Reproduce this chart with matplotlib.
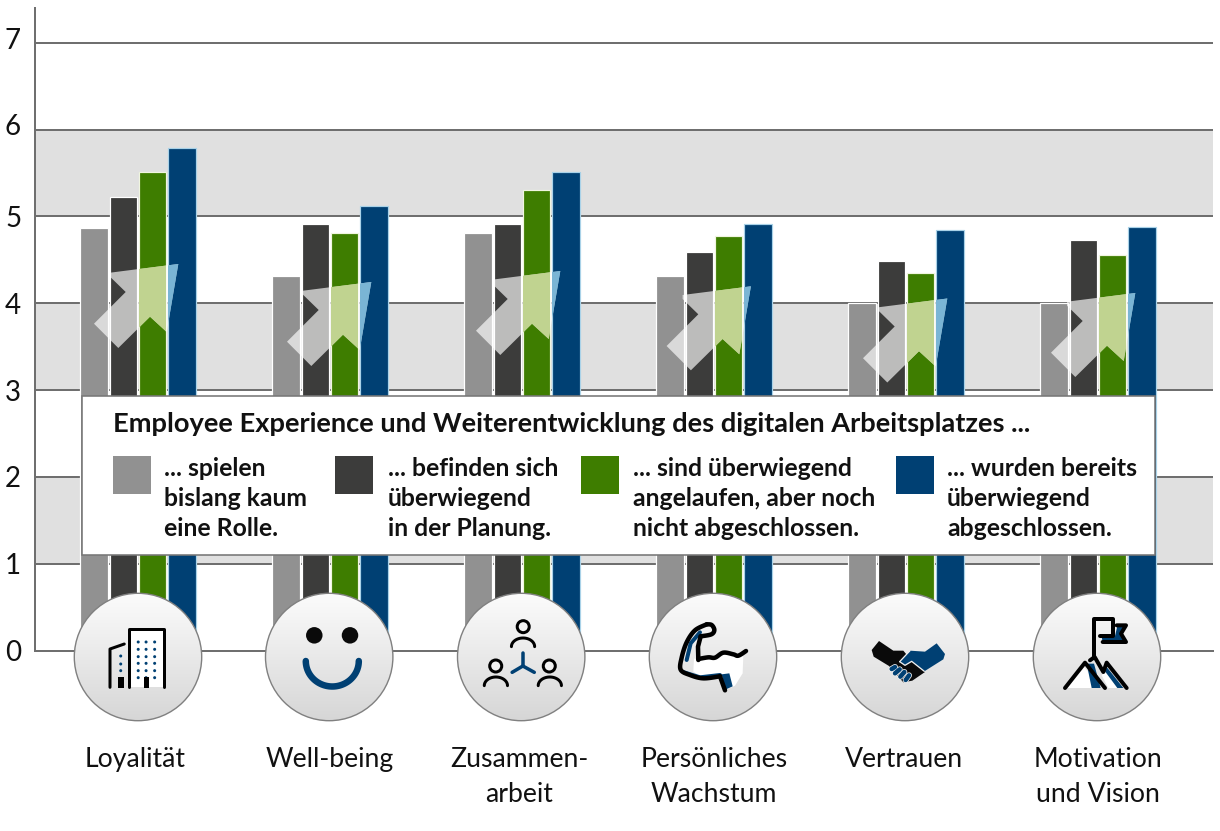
import numpy as np
import matplotlib
matplotlib.use("Agg")
import matplotlib.pyplot as plt
from matplotlib.patches import Polygon, Rectangle, Circle, Ellipse
from matplotlib.transforms import ScaledTranslation

# ---- data ----
categories = ["Loyalität", "Well-being", "Zusammen-\narbeit", "Persönliches\nWachstum", "Vertrauen", "Motivation\nund Vision"]
kaum_rolle = [4.87, 4.31, 4.81, 4.31, 4.00, 4.00]
planung = [5.22, 4.91, 4.91, 4.59, 4.49, 4.73]
angelaufen = [5.51, 4.81, 5.30, 4.77, 4.35, 4.56]
abgeschlossen = [5.79, 5.12, 5.51, 4.91, 4.84, 4.88]
series = [kaum_rolle, planung, angelaufen, abgeschlossen]
series_colors = ["#919191", "#3c3c3b", "#3e7d00", "#004073"]
edge_colors = ["#ffffff", "#ffffff", "#f0f5e0", "#a9d2e8"]
y_ticks = [0, 1, 2, 3, 4, 5, 6, 7]
bands = [(1, 2), (3, 4), (5, 6)]
legend_title = "Employee Experience und Weiterentwicklung des digitalen Arbeitsplatzes ..."
legend_labels = ["... spielen\nbislang kaum\neine Rolle.",
                 "... befinden sich\nüberwiegend\nin der Planung.",
                 "... sind überwiegend\nangelaufen, aber noch\nnicht abgeschlossen.",
                 "... wurden bereits\nüberwiegend\nabgeschlossen."]

W, H = 1220, 831
PX = 0.72
FONT = "Lato"
BLUE = "#004073"
GRID = "#6f6f6f"

fig = plt.figure(figsize=(W / 100, H / 100), dpi=100, facecolor="white")

# main axes mapped so that one value = 86.8 px, one group = 192 px
left, right, top, bottom = 35, 1213, 8, 650.5
ax = fig.add_axes([left / W, 1 - bottom / H, (right - left) / W, (bottom - top) / H])
ax.set_ylim(0, (bottom - top) / 86.8)
ax.set_xlim((left - 138) / 192, (right - 138) / 192)
for lo, hi in bands:
    ax.axhspan(lo, hi, color="#e0e0e0", lw=0, zorder=0)
ax.set_yticks(y_ticks)
ax.yaxis.grid(True, color=GRID, lw=2 * PX, zorder=1)
ax.set_axisbelow(True)
ax.tick_params(axis="y", length=0, pad=10, labelsize=20, labelcolor="#111111")
ax.set_xticks(range(len(categories)))
ax.set_xticklabels(categories, fontsize=19.2, linespacing=1.48, color="#111111", fontfamily=FONT)
ax.tick_params(axis="x", length=0, pad=69.5)
for lab in ax.get_yticklabels():
    lab.set_fontfamily(FONT)
for s in ("top", "right"):
    ax.spines[s].set_visible(False)
for s in ("left", "bottom"):
    ax.spines[s].set_color(GRID)
    ax.spines[s].set_linewidth(2 * PX)

# nudge labels as set in the reference
for lab, dy in zip(ax.get_yticklabels(), y_ticks):
    shift = {7: 4, 6: 5}.get(dy, 0)
    lab.set_transform(lab.get_transform() + ScaledTranslation(0, shift * PX / 72, fig.dpi_scale_trans))
for lab, dx in zip(ax.get_xticklabels(), [-3, 0, -3, 0, -2, 0]):
    lab.set_transform(lab.get_transform() + ScaledTranslation(dx * PX / 72, 0, fig.dpi_scale_trans))

pitch, width = 29.3 / 192, 27.2 / 192
x = np.arange(len(categories))
containers = []
for i, (vals, c, e) in enumerate(zip(series, series_colors, edge_colors)):
    containers.append(ax.bar(x + (i - 1.5) * pitch, vals, width=width, color=c, edgecolor=e,
                             linewidth=1.2 * PX, zorder=2))

# overlay in pixel coordinates for the decorations
ov = fig.add_axes([0, 0, 1, 1], facecolor="none")
ov.set_xlim(0, W)
ov.set_ylim(H, 0)
ov.axis("off")

# translucent arrow marks on the bars
arrow_shape = np.array([(110, 272.7), (178.3, 264), (166.7, 332), (150, 316.7), (118.3, 348),
                        (94, 323.7), (125.7, 292), (110, 276.7)])
arrow_shift = [(0, 0), (193, 18), (382, 7), (572.6, 22.3), (769, 34.5), (957, 29)]
for g, (dx, dy) in enumerate(arrow_shift):
    ov.add_patch(Polygon(arrow_shape + (dx, dy), closed=True, fc="white", ec="none", alpha=0.66, zorder=3))
    # tinted parts where the mark lies over the green and the blue bar
    for sidx, tint in ((2, "#c0d390"), (3, "#7ab5d5")):
        tp = Polygon(arrow_shape + (dx, dy), closed=True, fc=tint, ec="none", zorder=3.1)
        ov.add_patch(tp)
        tp.set_clip_path(containers[sidx][g])

# legend box
ov.add_patch(Rectangle((81.5, 396), 1073.5, 159, fc="white", ec="#777777", lw=1.6 * PX, zorder=4))
ov.text(113, 424.5, legend_title, fontsize=19.6, fontweight="bold", family=FONT, va="center", ha="left", color="#111111", zorder=5)
swatch_x = [113, 335, 581, 896]
text_x = [164, 388, 633, 947]
for sx_, tx, c, lab in zip(swatch_x, text_x, series_colors, legend_labels):
    ov.add_patch(Rectangle((sx_, 456), 37.5, 38, fc=c, ec="none", zorder=5))
    for k, line in enumerate(lab.split("\n")):
        ov.text(tx, 468 + 30 * k, line, fontsize=17.8, fontweight="bold", family=FONT, va="center", ha="left", color="#111111", zorder=5)

# icon circles
grad = np.linspace(0, 1, 256)[:, None]
cmap = matplotlib.colors.LinearSegmentedColormap.from_list("g", ["#fcfcfc", "#d6d6d6"])
centers = [138, 329.2, 521.2, 713, 905, 1097]
CY, R = 657, 63.7
for cx in centers:
    im = ov.imshow(grad, extent=(cx - R, cx + R, CY + R, CY - R), cmap=cmap, aspect="auto", zorder=6)
    im.set_clip_path(Circle((cx, CY), R, transform=ov.transData))
    ov.add_patch(Circle((cx, CY), R, fc="none", ec="#808080", lw=1.4 * PX, zorder=7))
ov.set_xlim(0, W)
ov.set_ylim(H, 0)


def smooth(p, n=12):
    # Catmull-Rom through the given points
    p = np.array(p, float)
    q = np.vstack([p[0], p, p[-1]])
    out = []
    for i in range(1, len(q) - 2):
        p0, p1, p2, p3 = q[i - 1], q[i], q[i + 1], q[i + 2]
        for t in np.linspace(0, 1, n, endpoint=False):
            out.append(0.5 * ((2 * p1) + (p2 - p0) * t + (2 * p0 - 5 * p1 + 4 * p2 - p3) * t ** 2
                              + (3 * p1 - p0 - 3 * p2 + p3) * t ** 3))
    out.append(p[-1])
    return np.array(out)


def L(pts, color="black", lw=3, x0=60, sx=2.8, y0=580, sy=3, soft=False, z=8):
    p = smooth(pts) if soft else np.array(pts, float)
    ov.plot(x0 + p[:, 0] / sx, y0 + p[:, 1] / sy, color=color, lw=lw * PX, zorder=z,
            solid_capstyle="round", solid_joinstyle="round")


def P(pts, color="black", x0=60, sx=2.8, y0=580, sy=3, z=8):
    p = np.array(pts, float)
    ov.add_patch(Polygon(np.c_[x0 + p[:, 0] / sx, y0 + p[:, 1] / sy], closed=True, fc=color, ec="none", zorder=z))


# building
P([(192, 145), (292, 145), (292, 322), (192, 322)], "#ffffff")
L([(192, 322), (192, 146), (292, 146), (292, 322)], lw=3)
L([(140, 322), (140, 207), (180, 192)], lw=3)
for px_ in (219, 241, 265):
    for py_ in (186, 208, 230, 250, 272, 293):
        ov.add_patch(Circle((60 + px_ / 2.8, 580 + py_ / 3), 1.5, fc=BLUE, ec="none", zorder=8))
for py_ in (228, 252, 272):
    ov.add_patch(Circle((60 + 170 / 2.8, 580 + py_ / 3), 1.5, fc=BLUE, ec="none", zorder=8))
P([(162, 290), (178, 290), (178, 323), (162, 323)])
P([(234, 290), (250, 290), (250, 323), (234, 323)])

# smiley
for ex in (712, 812):
    ov.add_patch(Ellipse((60 + ex / 2.8, 580 + 166 / 3), 16.5, 16.5, fc="#0a0a0a", ec="none", zorder=8))
t = np.linspace(0, np.pi, 60)
ov.plot(332.3 + 26.5 * np.cos(t), 661 + 25.5 * np.sin(t), color=BLUE, lw=6.5 * PX, solid_capstyle="round", zorder=8)


# team
def person(hx, hy, s0, s1, sy0, sy1):
    ov.add_patch(Circle((60 + hx / 2.8, 580 + hy / 3), 6, fc="#f2f2f2", ec="black", lw=3 * PX, zorder=8))
    tt = np.linspace(0, np.pi, 30)
    cx = 60 + (s0 + s1) / 2 / 2.8
    rx = (s1 - s0) / 2 / 2.8
    cy = 580 + sy0 / 3
    ov.plot(cx + rx * np.cos(tt), cy - (sy0 - sy1) / 3 * np.sin(tt), color="black", lw=3 * PX, solid_capstyle="round", zorder=8)


person(1297, 140, 1264, 1329, 200, 174)
person(1220, 258, 1188, 1253, 317, 291)
person(1370, 258, 1339, 1404, 317, 291)
L([(1296, 258), (1296, 220)], BLUE, 3.5)
L([(1296, 258), (1266, 277)], BLUE, 3.5)
L([(1296, 258), (1328, 277)], BLUE, 3.5)

# arm
A = dict(x0=670, sx=3, y0=615, sy=3)
P([(85, 135), (140, 128), (160, 116), (190, 120), (205, 124), (220, 120), (218, 175), (195, 212), (165, 226),
   (152, 182), (100, 190), (70, 170), (72, 130)], "#ffffff", **A)
L([(90, 52), (62, 85), (50, 135)], BLUE, 4, **A)
L([(42, 172), (90, 187), (150, 180)], BLUE, 4, **A)
P([(155, 178), (178, 175), (188, 214), (166, 224)], BLUE, **A)
L([(165, 226), (150, 184)], lw=4.5, **A)
L([(150, 184), (100, 190), (60, 180), (32, 164), (35, 128), (50, 82), (75, 46), (110, 28)], lw=4.5, soft=True, **A)
L([(110, 28), (125, 30), (133, 45), (124, 58), (92, 64)], lw=4.5, soft=True, **A)
L([(92, 64), (84, 95), (85, 135)], lw=4.5, **A)
L([(85, 132), (115, 127), (135, 128), (160, 113), (190, 118), (205, 122), (228, 108)], lw=4.5, soft=True, **A)

# handshake
Hs = dict(x0=865, sx=3, y0=630, sy=3)
P([(42, 33), (20, 60), (26, 80), (72, 108), (115, 157), (142, 152), (180, 126), (165, 105), (130, 80), (115, 62), (85, 62)],
  "#0a0a0a", **Hs)
P([(215, 40), (240, 72), (235, 88), (178, 124), (140, 94), (120, 106), (104, 95), (135, 62), (180, 65)], BLUE, **Hs)
L([(104, 95), (120, 106), (140, 94), (178, 124)], "#f0f0f0", 1.3, z=8.1, **Hs)
L([(104, 95), (135, 62)], "#f0f0f0", 1.3, z=8.1, **Hs)
for a, b in [((80, 117), (90, 111)), ((90, 130), (104, 118)), ((106, 140), (118, 126)), ((122, 150), (132, 136))]:
    L([a, b], "#f0f0f0", 6, z=8.2, **Hs)
for a, b in [((80, 117), (90, 111)), ((90, 130), (104, 118)), ((106, 140), (118, 126)), ((122, 150), (132, 136))]:
    L([a, b], BLUE, 4.5, z=8.3, **Hs)

# flag and mountains
Fl = dict(x0=1060, sx=3, y0=612, sy=3)
P([(22, 228), (72, 165), (125, 228)], "#ffffff", **Fl)
P([(125, 190), (140, 172), (185, 228), (145, 228)], "#ffffff", **Fl)
P([(80, 155), (102, 155), (122, 228), (95, 228)], BLUE, **Fl)
P([(140, 165), (190, 228), (172, 228), (135, 178)], BLUE, **Fl)
P([(125, 75), (165, 72), (172, 42), (198, 42), (183, 65), (198, 90), (128, 90)], BLUE, **Fl)
L([(128, 90), (198, 90), (183, 65), (198, 40), (170, 40)], lw=4, **Fl)
L([(102, 135), (102, 22), (160, 22), (160, 72), (120, 72)], lw=4, **Fl)
L([(15, 228), (75, 152), (135, 228)], lw=4, **Fl)
L([(90, 145), (104, 135), (130, 180), (140, 152), (200, 228)], lw=4, **Fl)

fig.savefig("out.png", dpi=100, facecolor="white")
